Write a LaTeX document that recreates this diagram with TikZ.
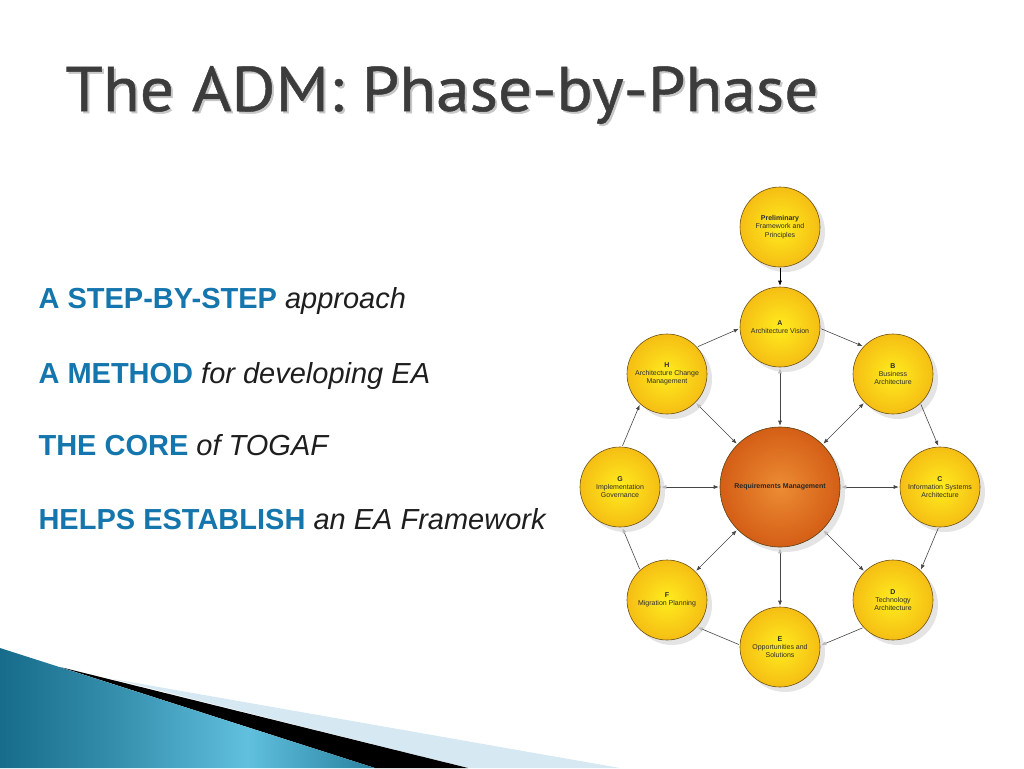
\documentclass[tikz,border=0pt]{standalone}
\usepackage{fontspec}
\setmainfont{Liberation Sans}
\newfontfamily\titlefont[FakeStretch=1.07,FakeBold=0.8]{PT Sans}
\usetikzlibrary{positioning,arrows.meta,calc,shadows}
\definecolor{stepblue}{RGB}{20,118,172}
\definecolor{leadgray}{RGB}{30,30,30}
\definecolor{titlegray}{RGB}{60,60,60}
\definecolor{phasein}{RGB}{255,236,30}
\definecolor{phaseout}{RGB}{245,190,20}
\definecolor{corein}{RGB}{236,140,52}
\definecolor{coreout}{RGB}{212,94,22}
\definecolor{ringline}{RGB}{110,80,20}
\definecolor{linkgray}{RGB}{70,70,70}
\definecolor{palegray}{RGB}{185,185,185}
\definecolor{phasetext}{RGB}{45,45,45}
\definecolor{tealdark}{RGB}{22,108,138}
\definecolor{tealmid}{RGB}{96,192,222}
\definecolor{lightband}{RGB}{214,232,242}
\pgfdeclareradialshading{phaseball}{\pgfpoint{0bp}{0bp}}{color(0bp)=(phasein); color(25bp)=(phaseout); color(50bp)=(phaseout)}
\pgfdeclareradialshading{coreball}{\pgfpoint{0bp}{0bp}}{color(0bp)=(corein); color(25bp)=(coreout); color(50bp)=(coreout)}
\pgfdeclarehorizontalshading{swoosh}{100bp}{color(0bp)=(tealdark); color(25bp)=(tealdark); color(40bp)=(tealdark!60!tealmid); color(58bp)=(tealmid); color(75bp)=(tealdark!75!tealmid); color(100bp)=(tealdark!75!tealmid)}
\newcommand{\keyword}[1]{{\color{stepblue}\bfseries #1}}

\begin{document}
\begin{tikzpicture}[x=1pt,y=-1pt,
  phase/.style={circle,minimum size=80pt,inner sep=0pt,draw=ringline,line width=0.6pt,
    shading=phaseball,drop shadow={shadow xshift=5pt,shadow yshift=-5pt,opacity=0.3,fill=gray!70},
    align=center,text=phasetext,font=\fontsize{7}{8.3}\selectfont},
  core/.style={phase,minimum size=120pt,shading=coreball,draw=ringline!80!black,text=black!85},
  lead/.style={anchor=base west,text=leadgray,font=\fontsize{29}{34}\selectfont},
  heading/.style={anchor=base west,font=\titlefont\fontsize{63}{63}\selectfont},
  link/.style={draw=linkgray,line width=0.6pt,shorten >=1pt,shorten <=1pt},
  ink/.tip={Latex[length=5pt,width=4pt]},
  pale/.tip={Latex[length=5pt,width=4pt,color=palegray]}]
\useasboundingbox (0,0) rectangle (1024,768);

% Corner swoosh
\fill[lightband] (113,679) -- (620,768) -- (468,768) -- cycle;
\fill[black] (60,667) -- (468,768) -- (375,768) -- cycle;
\shade[shading=swoosh] (0,648) -- (375,768) -- (0,768) -- cycle;

% Title
\node[heading,text=black!22] at (64,113) {The ADM: Phase-by-Phase};
\node[heading,text=titlegray] (title) at (62,111) {The ADM: Phase-by-Phase};

% Key points
\node[lead] (step) at (35,308) {\keyword{A STEP-BY-STEP} \textit{approach}};
\node[lead] (method) at (35,383) {\keyword{A METHOD} \textit{for developing EA}};
\node[lead] (togaf) at (35,455) {\keyword{THE CORE} \textit{of TOGAF}};
\node[lead] (frame) at (35,529) {\keyword{HELPS ESTABLISH} \textit{an EA Framework}};

% ADM cycle
\node[phase] (prelim) at (780,227) {\textbf{Preliminary}\\Framework and\\Principles};
\node[phase] (a) at (780,327) {\textbf{A}\\Architecture Vision};
\node[phase] (b) at (893,374) {\textbf{B}\\Business\\Architecture};
\node[phase] (c) at (940,487) {\textbf{C}\\Information Systems\\Architecture};
\node[phase] (d) at (893,600) {\textbf{D}\\Technology\\Architecture};
\node[phase] (e) at (780,647) {\textbf{E}\\Opportunities and\\Solutions};
\node[phase] (f) at (667,600) {\textbf{F}\\Migration Planning};
\node[phase] (g) at (620,487) {\textbf{G}\\Implementation\\Governance};
\node[phase] (h) at (667,374) {\textbf{H}\\Architecture Change\\Management};
\node[core] (rm) at (780,487) {\textbf{Requirements Management}};

\draw[link,draw=black,-ink] (prelim) -- (a);
\draw[link,-ink] (a.-2.5) -- (b.137.5);
\draw[link,-ink] (b.-47.5) -- (c.92.5);
\draw[link,-ink] (c.-92.5) -- (d.47.5);
\draw[link,-pale] (d.-137.5) -- (e.2.5);
\draw[link,-pale] (e.177.5) -- (f.-42.5);
\draw[link,-pale] (f.132.5) -- (g.-87.5);
\draw[link,-ink] (g.87.5) -- (h.-132.5);
\draw[link,-ink] (h.42.5) -- (a.182.5);

\draw[link,pale-ink] (a) -- (rm);
\draw[link,ink-ink] (b) -- (rm);
\draw[link,ink-pale] (c) -- (rm);
\draw[link,ink-pale] (d) -- (rm);
\draw[link,ink-pale] (e) -- (rm);
\draw[link,ink-ink] (f) -- (rm);
\draw[link,pale-ink] (g) -- (rm);
\draw[link,pale-ink] (h) -- (rm);
\end{tikzpicture}
\end{document}
